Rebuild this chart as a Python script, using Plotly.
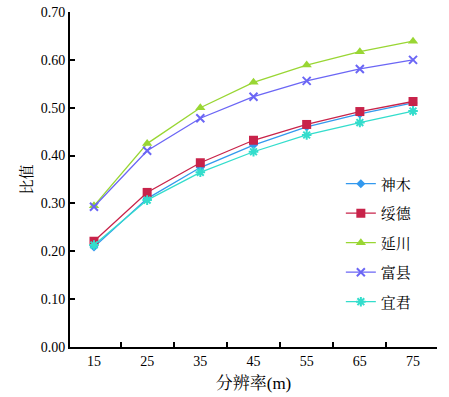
import plotly.graph_objects as go

categories = ["15", "25", "35", "45", "55", "65", "75"]
shenmu = [0.209, 0.310, 0.375, 0.422, 0.460, 0.487, 0.510]
suide = [0.221, 0.323, 0.385, 0.432, 0.465, 0.492, 0.513]
yanchuan = [0.295, 0.425, 0.500, 0.553, 0.589, 0.617, 0.639]
fuxian = [0.293, 0.410, 0.478, 0.523, 0.556, 0.581, 0.600]
yijun = [0.213, 0.307, 0.365, 0.408, 0.443, 0.469, 0.493]

series = [
    ("神木", shenmu, "#3399EE", "diamond", 7, 0),
    ("绥德", suide, "#C8234A", "square", 9, 0),
    ("延川", yanchuan, "#99D633", "triangle-up", 9, 0),
    ("富县", fuxian, "#6B66F5", "x-thin-open", 8, 2),
    ("宜君", yijun, "#33DDCC", "asterisk-open", 8, 2),
]

FONT = '"Liberation Serif", "Times New Roman", "Noto Serif CJK SC", "Noto Sans CJK SC", serif'

fig = go.Figure()
for i, (name, vals, color, sym, size, lw) in enumerate(series):
    marker = dict(symbol=sym, size=size, color=color)
    if lw:
        marker["line"] = dict(color=color, width=lw)
    fig.add_trace(go.Scatter(
        x=categories, y=vals, name=name, mode="lines+markers",
        line=dict(color=color, width=1.3), marker=marker,
        legendgroup=f"g{i}",
    ))

fig.update_layout(
    width=449, height=397,
    margin=dict(l=70, r=12, t=12, b=50, autoexpand=False),
    paper_bgcolor="white", plot_bgcolor="white",
    font=dict(family=FONT, size=14, color="black"),
    showlegend=True,
    legend=dict(x=0.738, y=0.536, xanchor="left", yanchor="top",
                bgcolor="rgba(0,0,0,0)", font=dict(size=15),
                traceorder="grouped", tracegroupgap=7, itemwidth=30),
    xaxis=dict(
        type="category", tickson="boundaries", ticks="inside", ticklen=5,
        tickwidth=1.5, tickcolor="black", automargin=False,
        showline=True, linecolor="black", linewidth=2, showgrid=False,
        zeroline=False, title=dict(text="分辨率(m)", standoff=9),
        tickfont=dict(size=14),
    ),
    yaxis=dict(
        range=[0, 0.70], tickvals=[0, 0.1, 0.2, 0.3, 0.4, 0.5, 0.6, 0.7],
        tickformat=".2f", ticks="inside", ticklen=5, tickwidth=1.5,
        tickcolor="black", showline=True, linecolor="black", linewidth=2,
        showgrid=False, zeroline=False, automargin=False,
        title=dict(text="比值", standoff=4, font=dict(size=15)),
        tickfont=dict(size=14),
    ),
)

fig.write_html("out.html", config={"displayModeBar": False},
               post_script="document.body.style.margin='0';")
